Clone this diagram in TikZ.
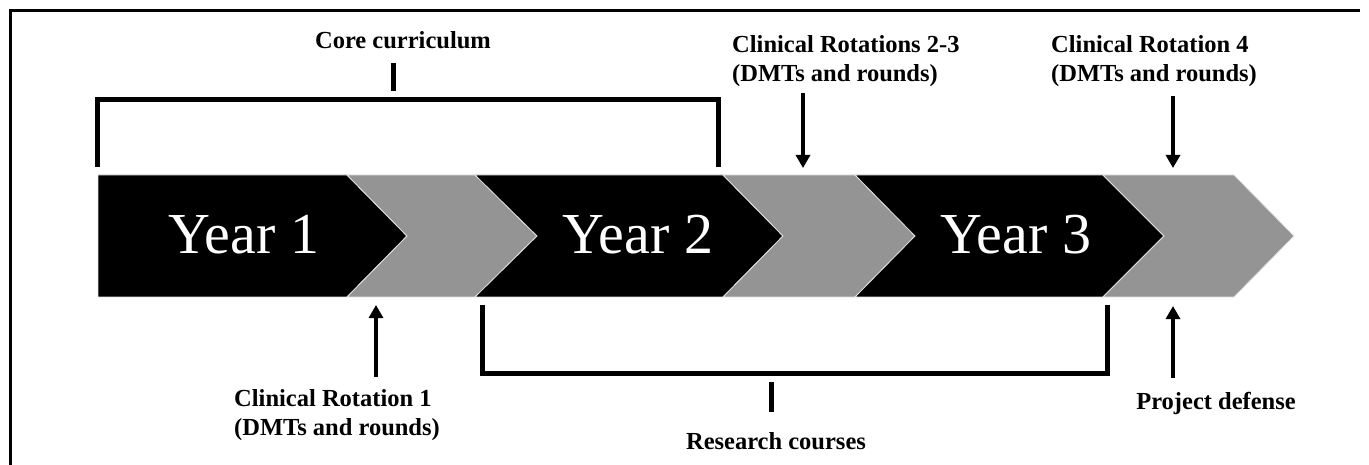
\documentclass[tikz,border=0pt]{standalone}
\usepackage{fontspec}
\setmainfont{Liberation Serif}
\usetikzlibrary{arrows.meta}
\definecolor{chevgray}{RGB}{148,148,148}
\definecolor{edgegray}{RGB}{225,225,225}
\begin{document}
\begin{tikzpicture}[x=1pt,y=-1pt,
  blk/.style={fill=black,draw=edgegray,line width=0.8pt},
  gry/.style={fill=chevgray,draw=edgegray,line width=0.8pt},
  yeartxt/.style={text=white,font=\fontsize{58}{60}\selectfont,anchor=base,inner sep=0pt},
  lbl/.style={font=\bfseries\fontsize{24.5}{29}\selectfont,inner sep=0pt},
  lblleft/.style={lbl,align=left,anchor=base west},
  lblmid/.style={lbl,anchor=base},
  brk/.style={line width=5pt},
  arr/.style={line width=3.2pt,-{Triangle[width=14pt,length=13pt]}}
]
\useasboundingbox (0,0) rectangle (1369,465);
\fill[white] (0,0) rectangle (1369,465);
% frame (left and top only)
\draw[line width=3pt] (10,466) -- (10,11) -- (1360,11);
% chevrons
\path[blk] (98,175) -- (347,175) -- (407,236) -- (347,297) -- (98,297) -- cycle;
\path[gry] (347,175) -- (475,175) -- (537,236) -- (475,297) -- (347,297) -- (407,236) -- cycle;
\path[blk] (475,175) -- (723,175) -- (783,236) -- (723,297) -- (475,297) -- (537,236) -- cycle;
\path[gry] (723,175) -- (855,175) -- (915,236) -- (855,297) -- (723,297) -- (783,236) -- cycle;
\path[blk] (855,175) -- (1103,175) -- (1164,236) -- (1103,297) -- (855,297) -- (915,236) -- cycle;
\path[gry] (1103,175) -- (1234,175) -- (1294,236) -- (1234,297) -- (1103,297) -- (1164,236) -- cycle;
% year labels
\node[yeartxt] (y1) at (244,254) {Year 1};
\node[yeartxt] (y2) at (638,254) {Year 2};
\node[yeartxt] (y3) at (1016,254) {Year 3};
% core curriculum bracket
\node[lblmid] (core) at (403,49) {Core curriculum};
\coordinate (coreL) at (97,167);
\coordinate (coreR) at (718,167);
\coordinate (coreT1) at (393,63);
\coordinate (coreT2) at (393,91);
\draw[brk] (coreL) -- (97,100) -- (718,100) -- (coreR);
\draw[brk] (coreT1) -- (coreT2);
% research bracket
\node[lblmid] (res) at (776,449) {Research courses};
\coordinate (resL) at (482,305);
\coordinate (resR) at (1107,305);
\coordinate (resT1) at (771,382);
\coordinate (resT2) at (771,412);
\draw[brk] (resL) -- (482,373) -- (1107,373) -- (resR);
\draw[brk] (resT1) -- (resT2);
% clinical rotation labels and arrows
\node[lblleft] (cr1) at (234,435) {Clinical Rotation 1\\(DMTs and rounds)};
\coordinate (cr1tail) at (376,377);
\coordinate (cr1tip) at (376,305);
\draw[arr] (cr1tail) -- (cr1tip);
\node[lblleft] (cr23) at (732,82) {Clinical Rotations 2-3\\(DMTs and rounds)};
\coordinate (cr23tail) at (803,93);
\coordinate (cr23tip) at (803,168);
\draw[arr] (cr23tail) -- (cr23tip);
\node[lblleft] (cr4) at (1051,82) {Clinical Rotation 4\\(DMTs and rounds)};
\coordinate (cr4tail) at (1173,96);
\coordinate (cr4tip) at (1173,168);
\draw[arr] (cr4tail) -- (cr4tip);
\node[lblmid] (pd) at (1216,409) {Project defense};
\coordinate (pdtail) at (1173,378);
\coordinate (pdtip) at (1173,306);
\draw[arr] (pdtail) -- (pdtip);
\end{tikzpicture}
\end{document}
